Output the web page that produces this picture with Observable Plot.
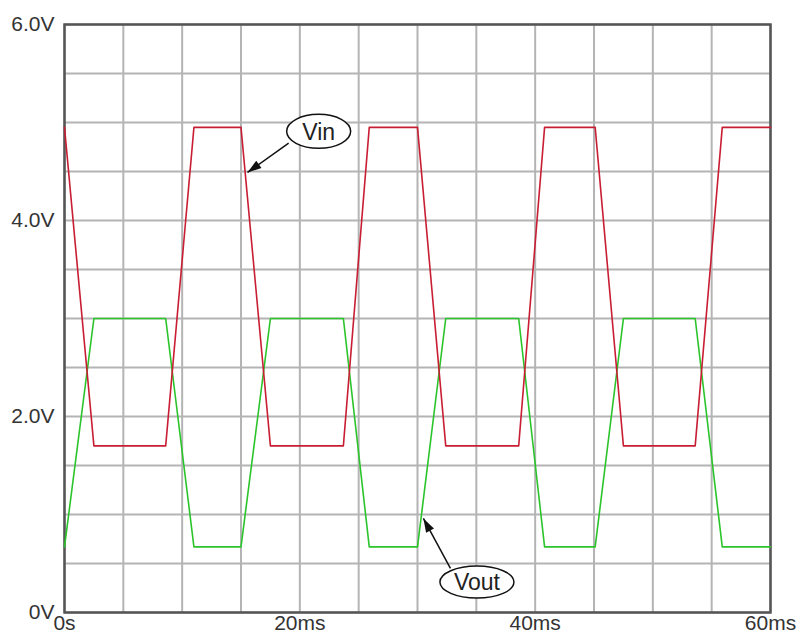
<!DOCTYPE html>
<html>
<head>
<meta charset="utf-8">
<script src="https://cdn.jsdelivr.net/npm/d3@7"></script>
<script src="https://cdn.jsdelivr.net/npm/@observablehq/plot@0.6"></script>
<style>
  html, body { margin: 0; padding: 0; background: #fff; }
  #chart svg { display: block; }
</style>
</head>
<body>
<div id="chart"></div>
<script>
// ---- data ----
const timeMs = [0, 2.5, 8.6, 11.0, 15.0, 17.5, 23.7, 25.9, 30.0, 32.4, 38.6, 40.8, 45.1, 47.5, 53.6, 55.9, 60];
const vin    = [4.95, 1.7, 1.7, 4.95, 4.95, 1.7, 1.7, 4.95, 4.95, 1.7, 1.7, 4.95, 4.95, 1.7, 1.7, 4.95, 4.95];
const vout   = [0.67, 3.0, 3.0, 0.67, 0.67, 3.0, 3.0, 0.67, 0.67, 3.0, 3.0, 0.67, 0.67, 3.0, 3.0, 0.67, 0.67];

const xTicks = [0, 20, 40, 60];
const xTickLabels = ["0s", "20ms", "40ms", "60ms"];
const yTicks = [0, 2, 4, 6];
const yTickLabels = ["0V", "2.0V", "4.0V", "6.0V"];
const xGrid = d3.range(0, 60.001, 5);
const yGrid = d3.range(0, 6.001, 0.5);

// annotation labels
const annLabels = ["Vin", "Vout"];

// ---- layout ----
const W = 796, H = 633;
const mL = 64, mR = 26, mT = 24, mB = 21;
const pxPerMs = (W - mL - mR) / 60;
const pxPerV = (H - mT - mB) / 6;

const annotations = [
  {label: annLabels[0], cx: 21.6, cy: 4.91, rx: 32, ry: 17, x1: 19.05, y1: 4.79, x2: 15.55, y2: 4.49},
  {label: annLabels[1], cx: 35.05, cy: 0.31, rx: 37, ry: 16, x1: 32.8, y1: 0.45, x2: 30.5, y2: 0.96}
];
annotations.forEach(a => {
  const dx = (a.x2 - a.x1) * pxPerMs, dy = -(a.y2 - a.y1) * pxPerV;
  a.rot = Math.atan2(dy, dx) * 180 / Math.PI - 90;
});

const ellipseSymbol = (rx, ry) => ({
  draw(ctx) {
    const k = 0.5523;
    ctx.moveTo(rx, 0);
    ctx.bezierCurveTo(rx, ry * k, rx * k, ry, 0, ry);
    ctx.bezierCurveTo(-rx * k, ry, -rx, ry * k, -rx, 0);
    ctx.bezierCurveTo(-rx, -ry * k, -rx * k, -ry, 0, -ry);
    ctx.bezierCurveTo(rx * k, -ry, rx, -ry * k, rx, 0);
    ctx.closePath();
  }
});
const headSymbol = {
  draw(ctx) {
    ctx.moveTo(0, 0);
    ctx.lineTo(-4.5, -14);
    ctx.lineTo(4.5, -14);
    ctx.closePath();
  }
};

const vinData = timeMs.map((t, i) => ({t, v: vin[i]}));
const voutData = timeMs.map((t, i) => ({t, v: vout[i]}));

const chart = Plot.plot({
  width: W,
  height: H,
  marginLeft: mL,
  marginRight: mR,
  marginTop: mT,
  marginBottom: mB,
  style: {fontFamily: "'Liberation Sans', Arial, sans-serif", fontSize: "21px", color: "#333", background: "#fff"},
  x: {domain: [0, 60], ticks: xTicks, tickFormat: d => xTickLabels[xTicks.indexOf(d)] ?? "", tickSize: 0, tickPadding: 3, label: null},
  y: {domain: [0, 6], ticks: yTicks, tickFormat: d => yTickLabels[yTicks.indexOf(d)] ?? "", tickSize: 0, tickPadding: 10, label: null},
  marks: [
    Plot.ruleX(xGrid, {stroke: "#b4b4b4", strokeWidth: 2}),
    Plot.ruleY(yGrid, {stroke: "#b4b4b4", strokeWidth: 2}),
    Plot.frame({stroke: "#555", strokeWidth: 2.5}),
    Plot.line(voutData, {x: "t", y: "v", stroke: "#2bc42b", strokeWidth: 1.6}),
    Plot.line(vinData, {x: "t", y: "v", stroke: "#c81e34", strokeWidth: 1.6}),
    Plot.link(annotations, {x1: "x1", y1: "y1", x2: "x2", y2: "y2", stroke: "#111", strokeWidth: 1.5}),
    Plot.dot(annotations, {x: "x2", y: "y2", rotate: "rot", symbol: headSymbol, r: 5, fill: "#111", stroke: "none"}),
    Plot.dot([annotations[0]], {x: "cx", y: "cy", symbol: ellipseSymbol(annotations[0].rx, annotations[0].ry), r: 10, fill: "#fff", stroke: "#111", strokeWidth: 1.5}),
    Plot.dot([annotations[1]], {x: "cx", y: "cy", symbol: ellipseSymbol(annotations[1].rx, annotations[1].ry), r: 10, fill: "#fff", stroke: "#111", strokeWidth: 1.5}),
    Plot.text(annotations, {x: "cx", y: "cy", text: "label", fontSize: 23, fill: "#222", dy: 1})
  ]
});
document.getElementById("chart").appendChild(chart);
</script>
</body>
</html>
